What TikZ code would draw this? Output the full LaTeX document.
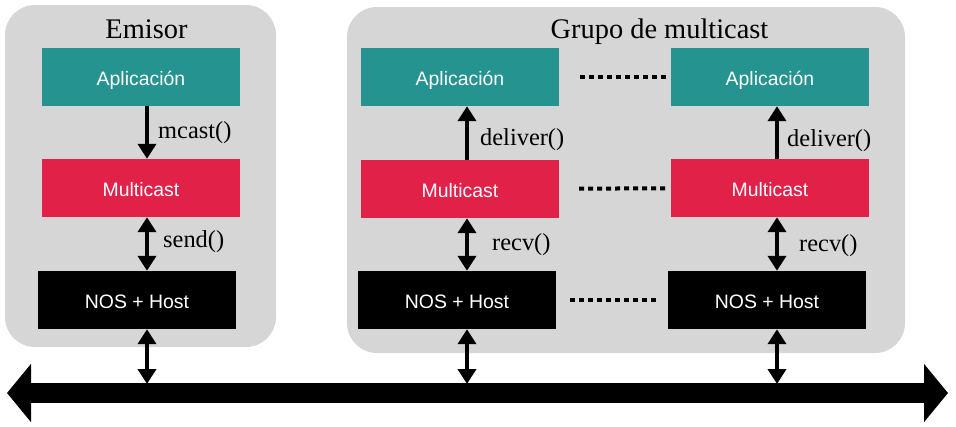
\documentclass[tikz,border=0pt]{standalone}
\usepackage{fontspec}
\setmainfont{Liberation Serif}
\newfontfamily\boxfont{Liberation Sans}
\usetikzlibrary{arrows.meta}

\definecolor{appteal}{RGB}{37,147,143}
\definecolor{mcred}{RGB}{226,33,73}
\definecolor{panelgray}{RGB}{214,214,214}

\tikzset{
  layer/.style={minimum width=198bp, minimum height=58bp, inner sep=0pt,
    text height=16bp, text depth=-2bp,
    text=white, font=\boxfont\fontsize{19.5}{21}\selectfont},
  app/.style={layer, fill=appteal},
  mc/.style={layer, fill=mcred},
  nos/.style={layer, fill=black},
  panel/.style={fill=panelgray, rounded corners=30bp},
  call/.style={line width=4bp, -{Triangle[length=15bp,width=18bp]}},
  call2/.style={line width=4bp, {Triangle[length=15bp,width=18bp]}-{Triangle[length=15bp,width=18bp]}},
  fn/.style={anchor=base west, inner sep=0pt, font=\fontsize{24.5}{26}\selectfont},
  grouptitle/.style={anchor=base, inner sep=0pt, font=\fontsize{28.5}{30}\selectfont},
  peer/.style={line width=4bp, dash pattern=on 5bp off 4bp},
  bus/.style={line width=20bp, {Triangle[length=24bp,width=57bp]}-{Triangle[length=24bp,width=57bp]}}
}

\begin{document}
\begin{tikzpicture}[x=1bp, y=-1bp]

\useasboundingbox (0,0) rectangle (956,426);

% Panels
\fill[panel] (5,5) rectangle (276,347);
\fill[panel] (347,7) rectangle (905,353);

\path
(146.5,38) node[grouptitle] (emisor) {Emisor}
(659.5,38) node[grouptitle] (grupo) {Grupo de multicast};

% Emisor
\path
(141,77) node[app] (app1) {Aplicación}
(141,188) node[mc] (mc1) {Multicast}
(137,300) node[nos] (nos1) {NOS + Host};

% Receptor 1
\path
(460,77) node[app] (app2) {Aplicación}
(460,189) node[mc] (mc2) {Multicast}
(457,300) node[nos] (nos2) {NOS + Host};

% Receptor 2
\path
(770,77) node[app] (app3) {Aplicación}
(770,188) node[mc] (mc3) {Multicast}
(767,300) node[nos] (nos3) {NOS + Host};

% Bus
\coordinate (c1) at (147,384);
\coordinate (c2) at (467,384);
\coordinate (c3) at (777,384);
\coordinate (bl) at (7,393);
\coordinate (br) at (948,393);
\draw[bus] (bl) -- (br);

% Calls
\draw[call] (app1.south -| c1) -- (mc1.north -| c1);
\draw[call2] (mc1.south -| c1) -- (nos1.north -| c1);
\draw[call2] (nos1.south -| c1) -- (c1);

\draw[call] (mc2.north -| c2) -- (app2.south -| c2);
\draw[call2] (mc2.south -| c2) -- (nos2.north -| c2);
\draw[call2] (nos2.south -| c2) -- (c2);

\draw[call] (mc3.north -| c3) -- (app3.south -| c3);
\draw[call2] (mc3.south -| c3) -- (nos3.north -| c3);
\draw[call2] (nos3.south -| c3) -- (c3);

\path
(158,138) node[fn] (l1) {mcast()}
(163,247) node[fn] (l2) {send()}
(480,145) node[fn] (l3) {deliver()}
(492,250) node[fn] (l4) {recv()}
(787,146) node[fn] (l5) {deliver()}
(799,251) node[fn] (l6) {recv()};

% Peers
\draw[peer, shorten <=21bp, shorten >=4bp] (app2) -- (app3);
\draw[peer, shorten <=20bp, shorten >=4bp] (mc2) -- (mc3);
\draw[peer, shorten <=14bp, shorten >=10bp] (nos2) -- (nos3);

\end{tikzpicture}
\end{document}
